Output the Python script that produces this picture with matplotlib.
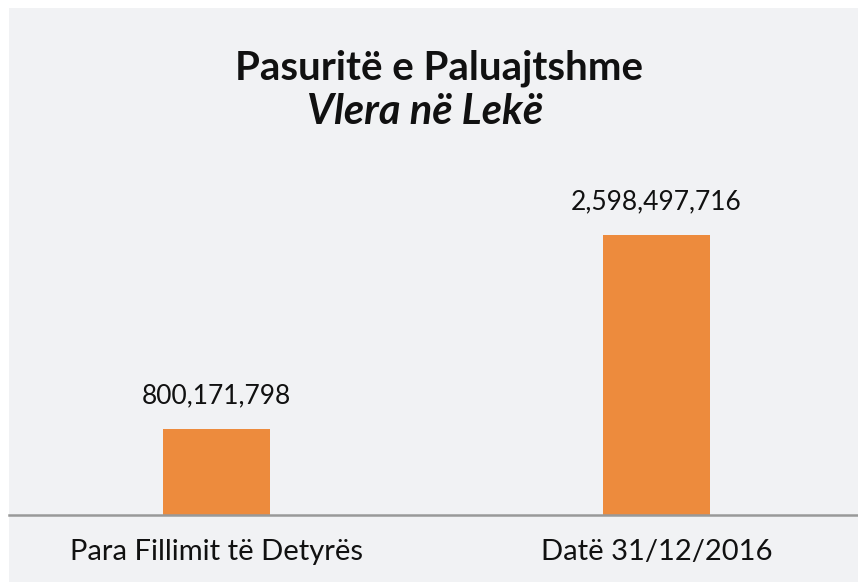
import matplotlib
matplotlib.use("Agg")
import matplotlib.pyplot as plt
from matplotlib.patches import Rectangle

categories = ["Para Fillimit të Detyrës", "Datë 31/12/2016"]
values = [800171798, 2598497716]
value_labels = ["800,171,798", "2,598,497,716"]
title = "Pasuritë e Paluajtshme"
subtitle = "Vlera në Lekë"

W, H = 858, 582
fig = plt.figure(figsize=(W / 100, H / 100), dpi=100)
fig.patch.set_facecolor("white")
bg = "#F1F2F4"
fig.patches.append(Rectangle((9 / W, 0), 1 - 9 / W, 1 - 8 / H, transform=fig.transFigure,
                             facecolor=bg, edgecolor="none", zorder=-10))

# axes: x from 9 to 858 px, baseline at y=515, top at 170
ax_left, ax_right = 9, 858
ax_bottom, ax_top = 515, 170
ax = fig.add_axes([ax_left / W, 1 - ax_bottom / H, (ax_right - ax_left) / W, (ax_bottom - ax_top) / H])
ax.set_facecolor("none")

# category centres at 216.5 and 656.5 px
px_per_cat = 440.0
x0 = -(216.5 - ax_left) / px_per_cat
x1 = x0 + (ax_right - ax_left) / px_per_cat
ax.set_xlim(x0, x1)
val_per_px = values[1] / 280.0
ax.set_ylim(0, val_per_px * (ax_bottom - ax_top))

xs = list(range(len(categories)))
ax.bar(xs, values, width=107 / px_per_cat, color="#ED8B3D", zorder=2)

for x, v, lab in zip(xs, values, value_labels):
    ax.annotate(lab, (x, v), xytext=(0, 15), textcoords="offset points",
                ha="center", va="bottom", fontsize=19, family="Lato", color="#111111")

for s in ["top", "right", "left"]:
    ax.spines[s].set_visible(False)
ax.spines["bottom"].set_color("#999999")
ax.spines["bottom"].set_linewidth(1.8)
ax.set_yticks([])
ax.set_xticks(xs)
ax.set_xticklabels(categories, fontsize=21, family="Lato", color="#111111")
ax.tick_params(axis="x", length=0, pad=17)

fig.text(439 / W, 1 - 68 / H, title, ha="center", va="center", fontsize=29,
         fontweight="bold", family="Lato", color="#111111")
fig.text(425 / W, 1 - 112 / H, subtitle, ha="center", va="center", fontsize=30,
         fontweight="bold", fontstyle="italic", family="Lato", color="#111111")

fig.savefig("out.png", dpi=100, facecolor=fig.get_facecolor())
